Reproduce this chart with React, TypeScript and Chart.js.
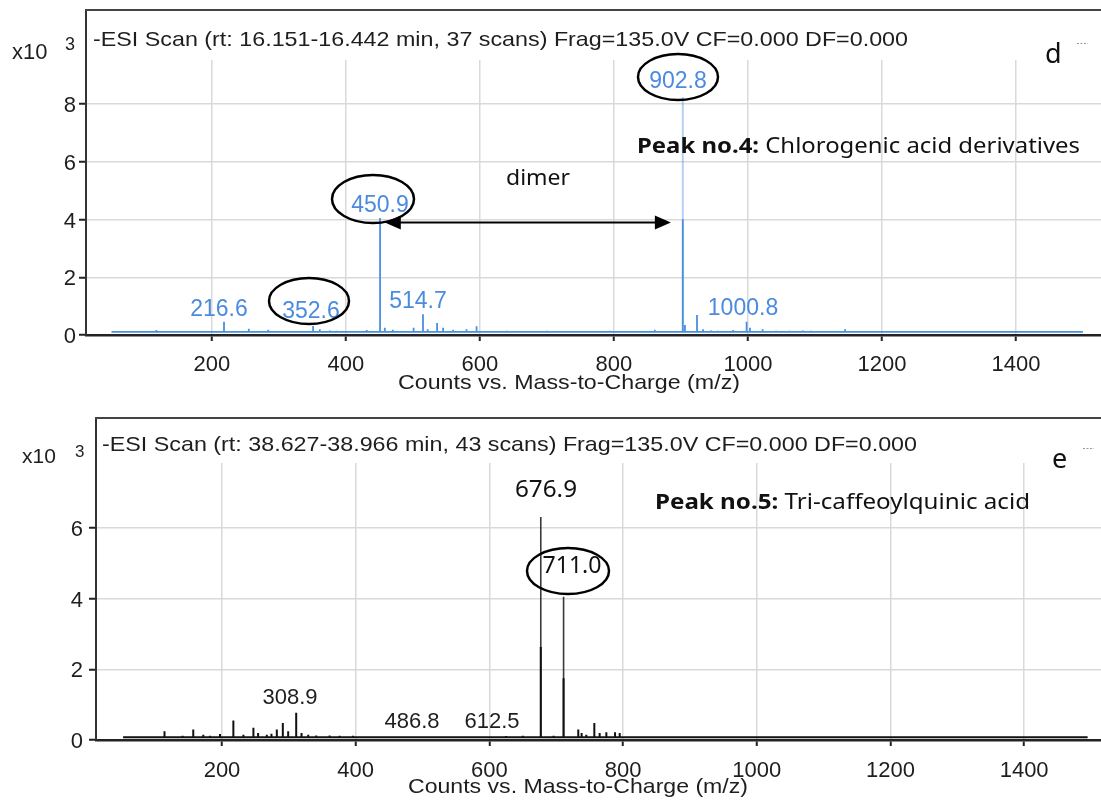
import React, { useEffect, useRef } from "react";
import { Chart, registerables } from "chart.js";
Chart.register(...registerables);

// ---------- shared ----------
const xTickValues = [200, 400, 600, 800, 1000, 1200, 1400];

// ---------- panel d (top) ----------
const dMz = [117, 150, 165, 180, 218, 255, 284, 300, 351, 361, 376, 386, 431, 450.9, 458, 470, 501, 515, 522, 536, 545, 560, 580, 595, 610, 640, 670, 700, 720, 745, 779, 794, 861, 902.8, 906, 924, 933, 945, 955, 978, 998, 1003, 1022, 1042, 1062, 1082, 1094, 1145];
const dIntensity = [0.17, 0.13, 0.14, 0.13, 0.46, 0.22, 0.18, 0.14, 0.31, 0.2, 0.16, 0.15, 0.17, 4.05, 0.25, 0.18, 0.25, 0.72, 0.2, 0.42, 0.25, 0.18, 0.2, 0.3, 0.14, 0.15, 0.14, 0.15, 0.14, 0.14, 0.14, 0.15, 0.18, 4.0, 0.35, 0.69, 0.2, 0.16, 0.15, 0.17, 0.46, 0.25, 0.2, 0.15, 0.15, 0.16, 0.15, 0.2];
const dTallMz = [902.8];
const dTallIntensity = [8.24];
const dBaseline = 0.11;
const dSpan = [50, 1500];
const dYTicks = [0, 2, 4, 6, 8];
const dPeakLabels = ["902.8", "450.9", "216.6", "352.6", "514.7", "1000.8"];
const dArrow = { from: 458, to: 885, level: 3.9 };

// ---------- panel e (bottom) ----------
const eMz = [114, 141, 157, 172, 182, 197, 217, 232, 247, 254, 267, 274, 282, 291, 299, 311, 319, 329, 341, 361, 376, 396, 416, 441, 570, 600, 625, 650, 676.9, 696, 711.0, 733, 738, 745, 757, 765, 775, 788, 795, 820, 845, 865];
const eIntensity = [0.25, 0.12, 0.3, 0.15, 0.12, 0.17, 0.55, 0.15, 0.35, 0.2, 0.15, 0.18, 0.3, 0.48, 0.25, 0.77, 0.2, 0.15, 0.13, 0.13, 0.12, 0.12, 0.1, 0.1, 0.1, 0.1, 0.11, 0.12, 2.63, 0.12, 1.75, 0.3, 0.2, 0.15, 0.48, 0.2, 0.22, 0.22, 0.2, 0.1, 0.1, 0.1];
const eTallMz = [676.9, 711.0];
const eTallIntensity = [6.31, 4.05];
const eBaseline = 0.08;
const eSpan = [52, 1495];
const eYTicks = [0, 2, 4, 6];
const ePeakLabels = ["676.9", "711.0", "308.9", "486.8", "612.5"];

const SANS = '"Liberation Sans", Arial, sans-serif';
const NOTE = '"Noto Sans", sans-serif';

function sticks(mz: number[], ints: number[], base: number, span: number[]) {
  const pts: { x: number; y: number | null }[] = [{ x: span[0], y: base }];
  const idx = mz.map((_, i) => i).sort((a, b) => mz[a] - mz[b]);
  idx.forEach((i) => {
    pts.push({ x: mz[i], y: base }, { x: mz[i], y: ints[i] }, { x: mz[i], y: base });
  });
  pts.push({ x: span[1], y: base });
  return pts;
}
function tallSticks(mz: number[], ints: number[], base: number) {
  const pts: { x: number; y: number | null }[] = [];
  mz.forEach((m, i) => {
    pts.push({ x: m, y: base }, { x: m, y: ints[i] }, { x: m, y: null });
  });
  return pts;
}

type TO = { family?: string; weight?: string; color?: string; align?: "left" | "center" | "right"; w?: number };
function txt(ctx: CanvasRenderingContext2D, s: string, x: number, y: number, size: number, o: TO = {}) {
  ctx.save();
  ctx.font = `${o.weight || "normal"} ${size}px ${o.family || SANS}`;
  const m = ctx.measureText(s).width;
  const sx = o.w ? o.w / m : 1;
  const width = m * sx;
  const left = o.align === "center" ? x - width / 2 : o.align === "right" ? x - width : x;
  ctx.translate(left, y);
  ctx.scale(sx, 1);
  ctx.textAlign = "left";
  ctx.textBaseline = "alphabetic";
  ctx.fillStyle = o.color || "#1e1e1e";
  ctx.fillText(s, 0, 0);
  ctx.restore();
}
function mixed(ctx: CanvasRenderingContext2D, bold: string, rest: string, x: number, y: number, size: number, w: number) {
  ctx.save();
  ctx.font = `bold ${size}px ${NOTE}`;
  const wb = ctx.measureText(bold).width;
  ctx.font = `normal ${size}px ${NOTE}`;
  const wr = ctx.measureText(rest).width;
  const sx = w / (wb + wr);
  ctx.translate(x, y);
  ctx.scale(sx, 1);
  ctx.fillStyle = "#111";
  ctx.textBaseline = "alphabetic";
  ctx.font = `bold ${size}px ${NOTE}`;
  ctx.fillText(bold, 0, 0);
  ctx.font = `normal ${size}px ${NOTE}`;
  ctx.fillText(rest, wb, 0);
  ctx.restore();
}
function ellipse(ctx: CanvasRenderingContext2D, cx: number, cy: number, rx: number, ry: number) {
  ctx.save();
  ctx.beginPath();
  ctx.ellipse(cx, cy, rx, ry, 0, 0, Math.PI * 2);
  ctx.strokeStyle = "#000";
  ctx.lineWidth = 2.5;
  ctx.stroke();
  ctx.restore();
}
function marker(ctx: CanvasRenderingContext2D, x: number, y: number) {
  ctx.save();
  ctx.strokeStyle = "#999";
  ctx.lineWidth = 1;
  ctx.setLineDash([2, 1.5]);
  ctx.beginPath();
  ctx.moveTo(x, y + 0.5);
  ctx.lineTo(x + 11, y + 0.5);
  ctx.stroke();
  ctx.restore();
}

type Panel = {
  tall: { x: number; y: number | null }[];
  main: { x: number; y: number | null }[];
  color: string;
  tallColor: string;
  width: number;
  tallWidth: number;
  xMin: number;
  xMax: number;
  yMax: number;
  yTicks: number[];
  padTop: number;
  yAxisWidth: number;
  xAxisHeight: number;
  boxBottom: number;
  yLabelRight: number;
  xLabelBaseline: number;
  annotate: (chart: any, ctx: CanvasRenderingContext2D) => void;
};

const panelD: Panel = {
  tall: tallSticks(dTallMz, dTallIntensity, dBaseline),
  main: sticks(dMz, dIntensity, dBaseline, dSpan),
  color: "#4a8fe0",
  tallColor: "rgba(90,150,225,0.45)",
  width: 1.8,
  tallWidth: 2,
  xMin: 12,
  xMax: 1527,
  yMax: 11.26,
  yTicks: dYTicks,
  padTop: 10,
  yAxisWidth: 86,
  xAxisHeight: 65,
  boxBottom: 60,
  yLabelRight: 76,
  xLabelBaseline: 371,
  annotate: (chart, ctx) => {
    const blue = "#4a8be0";
    txt(ctx, "x10", 12, 59, 22);
    txt(ctx, "3", 65, 50, 18);
    txt(ctx, "-ESI Scan (rt: 16.151-16.442 min, 37 scans) Frag=135.0V CF=0.000 DF=0.000", 93, 46, 21, { w: 815 });
    txt(ctx, "d", 1045, 63, 27, { family: NOTE, color: "#111" });
    marker(ctx, 1077, 43);
    txt(ctx, dPeakLabels[0], 678, 88, 23, { align: "center", color: blue });
    ellipse(ctx, 678, 77, 40, 23);
    mixed(ctx, "Peak no.4:", " Chlorogenic acid derivatives", 637, 153, 22, 443);
    txt(ctx, "dimer", 538, 185, 22, { family: NOTE, align: "center", w: 64, color: "#111" });
    txt(ctx, dPeakLabels[1], 380, 212, 23, { align: "center", color: blue });
    ellipse(ctx, 373, 199, 41, 24);
    txt(ctx, dPeakLabels[2], 219, 316, 23, { align: "center", color: blue });
    txt(ctx, dPeakLabels[3], 311, 318, 23, { align: "center", color: blue });
    ellipse(ctx, 309, 301, 40, 23);
    txt(ctx, dPeakLabels[4], 418, 308, 23, { align: "center", color: blue });
    txt(ctx, dPeakLabels[5], 743, 315, 23, { align: "center", color: blue });
    // double arrow
    const xs = chart.scales.x, ys = chart.scales.y;
    const x1 = xs.getPixelForValue(dArrow.from), x2 = xs.getPixelForValue(dArrow.to), y = ys.getPixelForValue(dArrow.level);
    ctx.save();
    ctx.strokeStyle = "#000";
    ctx.fillStyle = "#000";
    ctx.lineWidth = 2;
    ctx.beginPath();
    ctx.moveTo(x1 + 10, y);
    ctx.lineTo(x2 - 10, y);
    ctx.stroke();
    ctx.beginPath();
    ctx.moveTo(x1, y);
    ctx.lineTo(x1 + 16, y - 7);
    ctx.lineTo(x1 + 16, y + 7);
    ctx.closePath();
    ctx.fill();
    ctx.beginPath();
    ctx.moveTo(x2, y);
    ctx.lineTo(x2 - 16, y - 7);
    ctx.lineTo(x2 - 16, y + 7);
    ctx.closePath();
    ctx.fill();
    ctx.restore();
    txt(ctx, "Counts vs. Mass-to-Charge (m/z)", 398, 389, 21, { w: 342 });
  },
};

const panelE: Panel = {
  tall: tallSticks(eTallMz, eTallIntensity, eBaseline),
  main: sticks(eMz, eIntensity, eBaseline, eSpan),
  color: "#111",
  tallColor: "#3a3a3a",
  width: 2,
  tallWidth: 1.6,
  xMin: 11.5,
  xMax: 1515,
  yMax: 9.11,
  yTicks: eYTicks,
  padTop: 18,
  yAxisWidth: 96,
  xAxisHeight: 65,
  boxBottom: 63,
  yLabelRight: 83,
  xLabelBaseline: 377,
  annotate: (chart, ctx) => {
    txt(ctx, "x10", 22, 63, 21);
    txt(ctx, "3", 75, 57, 17);
    txt(ctx, "-ESI Scan (rt: 38.627-38.966 min, 43 scans) Frag=135.0V CF=0.000 DF=0.000", 102, 51, 21, { w: 815 });
    txt(ctx, "e", 1052, 68, 27, { family: NOTE, color: "#111" });
    marker(ctx, 1083, 48);
    txt(ctx, ePeakLabels[0], 546, 97, 24, { family: NOTE, align: "center", w: 62, color: "#111" });
    txt(ctx, ePeakLabels[1], 572, 173, 24, { family: NOTE, align: "center", w: 59, color: "#111" });
    ellipse(ctx, 568, 171, 41, 23);
    mixed(ctx, "Peak no.5:", " Tri-caffeoylquinic acid", 655, 109, 22, 375);
    txt(ctx, ePeakLabels[2], 290, 304, 22, { align: "center" });
    txt(ctx, ePeakLabels[3], 412, 328, 22, { align: "center" });
    txt(ctx, ePeakLabels[4], 492, 328, 22, { align: "center" });
    txt(ctx, "Counts vs. Mass-to-Charge (m/z)", 408, 393, 21, { w: 340 });
  },
};

function overlay(p: Panel) {
  return {
    id: "overlay",
    beforeDatasetsDraw(chart: any) {
      const ctx = chart.ctx, ca = chart.chartArea;
      ctx.save();
      ctx.fillStyle = "#fff";
      ctx.fillRect(ca.left + 1.5, ca.top, ca.right - ca.left, p.boxBottom - ca.top);
      ctx.restore();
    },
    afterDraw(chart: any) {
      const ctx: CanvasRenderingContext2D = chart.ctx, ca = chart.chartArea;
      ctx.save();
      ctx.strokeStyle = "#444";
      ctx.lineWidth = 2;
      ctx.beginPath();
      ctx.moveTo(ca.left - 1, ca.top);
      ctx.lineTo(ca.right, ca.top);
      ctx.stroke();
      ctx.restore();
      const xs = chart.scales.x, ys = chart.scales.y;
      xs.ticks.forEach((t: any) => txt(ctx, String(t.value), xs.getPixelForValue(t.value), p.xLabelBaseline, 22, { align: "center" }));
      ys.ticks.forEach((t: any) => txt(ctx, String(t.value), p.yLabelRight, ys.getPixelForValue(t.value) + 8, 22, { align: "right" }));
      p.annotate(chart, ctx);
    },
  };
}

function makeConfig(p: Panel): any {
  return {
    type: "line",
    data: {
      datasets: [
        { data: p.tall, borderColor: p.tallColor, borderWidth: p.tallWidth, pointRadius: 0, tension: 0, spanGaps: false, order: 2 },
        { data: p.main, borderColor: p.color, borderWidth: p.width, pointRadius: 0, tension: 0, order: 1 },
      ],
    },
    options: {
      responsive: false,
      animation: false,
      events: [],
      layout: { padding: { top: p.padTop, left: 0, right: 0, bottom: 0 } },
      plugins: { legend: { display: false }, tooltip: { enabled: false } },
      scales: {
        x: {
          type: "linear",
          min: p.xMin,
          max: p.xMax,
          afterBuildTicks: (s: any) => { s.ticks = xTickValues.map((v) => ({ value: v })); },
          afterFit: (s: any) => { s.height = p.xAxisHeight; },
          ticks: { display: false },
          grid: { color: "#d9d9d9", lineWidth: 1.5, tickColor: "#222", tickLength: 6, tickWidth: 2, drawTicks: true },
          border: { color: "#222", width: 2.5 },
        },
        y: {
          type: "linear",
          min: 0,
          max: p.yMax,
          afterBuildTicks: (s: any) => { s.ticks = p.yTicks.map((v) => ({ value: v })); },
          afterFit: (s: any) => { s.width = p.yAxisWidth; },
          ticks: { display: false },
          grid: { color: "#d9d9d9", lineWidth: 1.5, tickColor: "#222", tickLength: 7, tickWidth: 2, drawTicks: true },
          border: { color: "#333", width: 2 },
        },
      },
    },
    plugins: [overlay(p)],
  };
}

export default function App() {
  const topRef = useRef<HTMLCanvasElement>(null);
  const botRef = useRef<HTMLCanvasElement>(null);
  useEffect(() => {
    const c1 = new Chart(topRef.current as HTMLCanvasElement, makeConfig(panelD));
    const c2 = new Chart(botRef.current as HTMLCanvasElement, makeConfig(panelE));
    return () => {
      c1.destroy();
      c2.destroy();
    };
  }, []);
  return (
    <div style={{ position: "absolute", left: 0, top: 0, width: 1101, height: 805, background: "#fff", overflow: "hidden" }}>
      <canvas ref={topRef} width={1101} height={400} style={{ position: "absolute", left: 0, top: 0 }} />
      <canvas ref={botRef} width={1101} height={405} style={{ position: "absolute", left: 0, top: 400 }} />
    </div>
  );
}
